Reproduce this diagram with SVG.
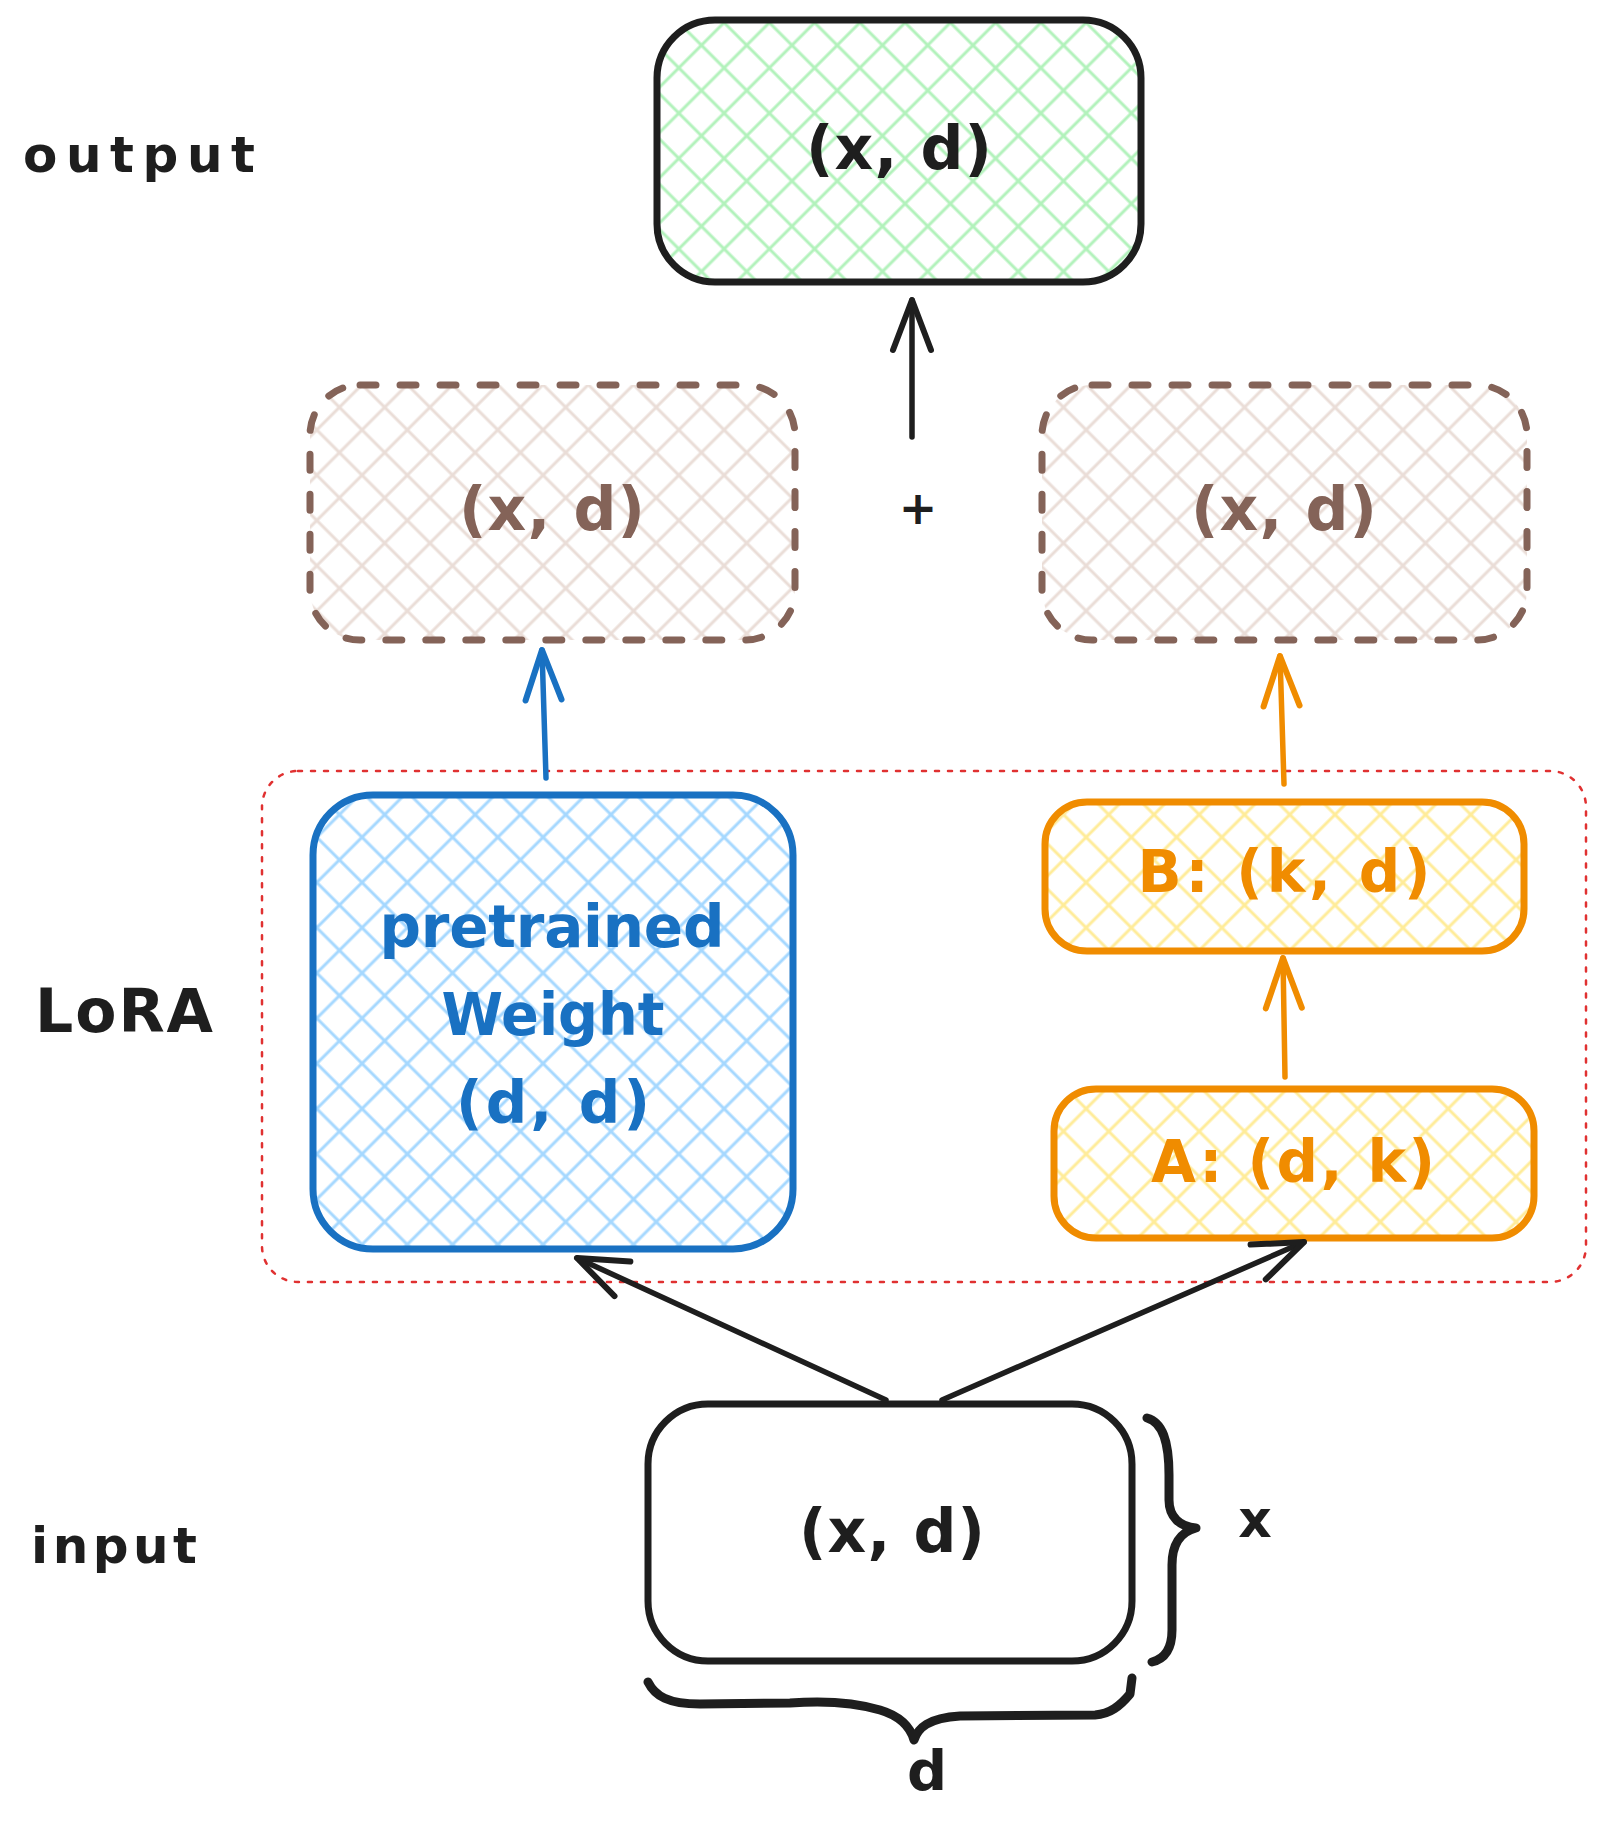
<svg xmlns="http://www.w3.org/2000/svg" width="1608" height="1835" viewBox="0 0 1608 1835">
<style>
  text { font-family: "DejaVu Sans", "Liberation Sans", sans-serif; font-weight: bold; text-anchor: middle; }
  .lbl { fill: #1e1e1e; text-anchor: start; }
  .box { stroke-width: 7; stroke-linejoin: round; }
  .dash { fill: url(#hBrown); stroke: #846358; stroke-width: 7; stroke-dasharray: 16 24; stroke-linecap: round; }
  .arrow { fill: none; stroke-width: 5.5; stroke-linecap: round; }
</style>
<defs>
  <pattern id="hGreen" patternUnits="userSpaceOnUse" width="32" height="32" patternTransform="rotate(45)">
    <path d="M0,16 H32 M16,0 V32" stroke="#b2f2bb" stroke-width="3"/>
  </pattern>
  <pattern id="hBrown" patternUnits="userSpaceOnUse" width="32" height="32" patternTransform="rotate(45)">
    <path d="M0,16 H32 M16,0 V32" stroke="#eaddd7" stroke-width="3"/>
  </pattern>
  <pattern id="hBlue" patternUnits="userSpaceOnUse" width="32" height="32" patternTransform="rotate(45)">
    <path d="M0,16 H32 M16,0 V32" stroke="#a5d8ff" stroke-width="3"/>
  </pattern>
  <pattern id="hYellow" patternUnits="userSpaceOnUse" width="32" height="32" patternTransform="rotate(45)">
    <path d="M0,16 H32 M16,0 V32" stroke="#ffec99" stroke-width="3"/>
  </pattern>
  <marker id="aBlack" markerUnits="userSpaceOnUse" viewBox="-60 -30 70 60" refX="0" refY="0" markerWidth="70" markerHeight="60" orient="auto">
    <path d="M-50,-19 L0,0 L-50,19" fill="none" stroke="#1e1e1e" stroke-width="6" stroke-linecap="round" stroke-linejoin="round"/>
  </marker>
  <marker id="aBlue" markerUnits="userSpaceOnUse" viewBox="-60 -30 70 60" refX="0" refY="0" markerWidth="70" markerHeight="60" orient="auto">
    <path d="M-50,-18 L0,0 L-50,18" fill="none" stroke="#1971c2" stroke-width="6" stroke-linecap="round" stroke-linejoin="round"/>
  </marker>
  <marker id="aOrange" markerUnits="userSpaceOnUse" viewBox="-60 -30 70 60" refX="0" refY="0" markerWidth="70" markerHeight="60" orient="auto">
    <path d="M-50,-18 L0,0 L-50,18" fill="none" stroke="#f08c00" stroke-width="6" stroke-linecap="round" stroke-linejoin="round"/>
  </marker>
</defs>
<rect width="1608" height="1835" fill="#ffffff"/>

<!-- side labels -->
<text class="lbl" x="23" y="172" font-size="50" textLength="232" lengthAdjust="spacing">output</text>
<text class="lbl" x="35" y="1032" font-size="60" textLength="178" lengthAdjust="spacing">LoRA</text>
<text class="lbl" x="31" y="1563" font-size="50" textLength="166" lengthAdjust="spacing">input</text>

<!-- LoRA container -->
<g id="lora-group">
  <rect x="262" y="771" width="1324" height="511" rx="36" fill="none" stroke="#e03131" stroke-width="2.5" stroke-dasharray="4 9" stroke-linecap="round"/>
</g>

<g id="output">
  <rect class="box" x="657" y="20" width="484" height="262" rx="58" fill="url(#hGreen)" stroke="#1e1e1e"/>
  <text x="899" y="169" font-size="60" fill="#1e1e1e" textLength="186" lengthAdjust="spacing">(x, d)</text>
</g>

<g id="mid-left">
  <rect class="dash" x="310" y="385" width="485" height="255" rx="50"/>
  <text x="552" y="530" font-size="60" fill="#846358" textLength="186" lengthAdjust="spacing">(x, d)</text>
</g>

<g id="plus">
  <text x="918" y="524" font-size="46" fill="#1e1e1e">+</text>
</g>

<g id="mid-right">
  <rect class="dash" x="1042" y="385" width="485" height="255" rx="50"/>
  <text x="1284" y="530" font-size="60" fill="#846358" textLength="186" lengthAdjust="spacing">(x, d)</text>
</g>

<g id="pretrained">
  <rect class="box" x="313" y="795" width="480" height="454" rx="60" fill="url(#hBlue)" stroke="#1971c2"/>
  <text x="552" y="947" font-size="58" fill="#1971c2" textLength="345" lengthAdjust="spacing">pretrained</text>
  <text x="553" y="1035" font-size="58" fill="#1971c2" textLength="223" lengthAdjust="spacingAndGlyphs">Weight</text>
  <text x="553" y="1123" font-size="58" fill="#1971c2" textLength="194" lengthAdjust="spacing">(d, d)</text>
</g>

<g id="lora-b">
  <rect class="box" x="1045" y="802" width="479" height="149" rx="42" fill="url(#hYellow)" stroke="#f08c00"/>
  <text x="1284" y="892" font-size="58" fill="#f08c00" textLength="293" lengthAdjust="spacing">B: (k, d)</text>
</g>

<g id="lora-a">
  <rect class="box" x="1054" y="1089" width="480" height="149" rx="42" fill="url(#hYellow)" stroke="#f08c00"/>
  <text x="1293" y="1182" font-size="58" fill="#f08c00" textLength="284" lengthAdjust="spacing">A: (d, k)</text>
</g>

<g id="input">
  <rect class="box" x="648" y="1404" width="484" height="257" rx="60" fill="#ffffff" stroke="#1e1e1e"/>
  <text x="892" y="1552" font-size="60" fill="#1e1e1e" textLength="186" lengthAdjust="spacing">(x, d)</text>
</g>

<g id="dim-x">
  <path d="M1147,1418 C1162,1422 1169,1440 1169,1475 L1169,1500 C1169,1517 1180,1527 1196,1528 C1180,1532 1172,1545 1172,1565 L1172,1630 C1172,1650 1164,1659 1152,1662" fill="none" stroke="#1e1e1e" stroke-width="9" stroke-linecap="round" stroke-linejoin="round"/>
  <text x="1255" y="1537" font-size="52" fill="#1e1e1e">x</text>
</g>

<g id="dim-d">
  <path d="M648,1682 C655,1696 668,1704 700,1704 L790,1703 C830,1700 860,1704 880,1710 C900,1716 910,1726 914,1740 C918,1728 928,1718 960,1716 L1095,1715 C1110,1714 1120,1706 1130,1694 L1132,1678" fill="none" stroke="#1e1e1e" stroke-width="9" stroke-linecap="round" stroke-linejoin="round"/>
  <text x="927" y="1790" font-size="56" fill="#1e1e1e">d</text>
</g>

<g id="connectors">
  <path class="arrow" d="M912,437 L912,300" stroke="#1e1e1e" marker-end="url(#aBlack)"/>
  <path class="arrow" d="M546,778 L542,650" stroke="#1971c2" marker-end="url(#aBlue)"/>
  <path class="arrow" d="M1284,784 L1280,656" stroke="#f08c00" marker-end="url(#aOrange)"/>
  <path class="arrow" d="M1285,1077 L1283,958" stroke="#f08c00" marker-end="url(#aOrange)"/>
  <path class="arrow" d="M886,1400 L577,1258" stroke="#1e1e1e" marker-end="url(#aBlack)"/>
  <path class="arrow" d="M942,1400 L1304,1242" stroke="#1e1e1e" marker-end="url(#aBlack)"/>
</g>
</svg>
